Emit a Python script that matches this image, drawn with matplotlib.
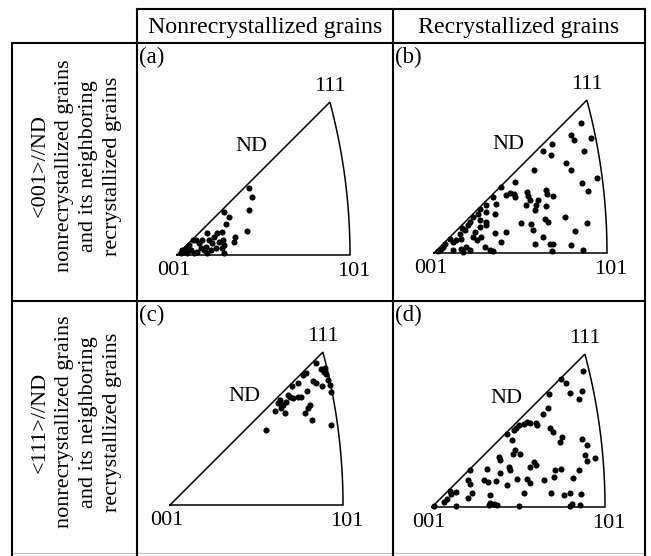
import matplotlib
matplotlib.use("Agg")
import matplotlib.pyplot as plt
import numpy as np
from matplotlib.lines import Line2D

plt.rcParams["font.family"] = ["Liberation Serif", "DejaVu Serif"]

W, H = 651, 556

COL_TITLES = ["Nonrecrystallized grains", "Recrystallized grains"]
ROW_TITLES = [
    "<001>//ND\nnonrecrystallized grains\nand its neighboring\nrecrystallized grains",
    "<111>//ND\nnonrecrystallized grains\nand its neighboring\nrecrystallized grains",
]
PANEL_TAGS = ["(a)", "(b)", "(c)", "(d)"]
POLE_LABELS = ["001", "101", "111", "ND"]

# grain orientations in the standard triangle (stereographic),
# in units of the 001-101 edge length
GRAINS_A = [
    (0.416, 0.385), (0.432, 0.337), (0.416, 0.260), (0.407, 0.141), (0.272, 0.250),
    (0.301, 0.222), (0.285, 0.177), (0.258, 0.135), (0.335, 0.106), (0.329, 0.077),
    (0.268, 0.087), (0.272, 0.058), (0.233, 0.125), (0.214, 0.106), (0.175, 0.125),
    (0.185, 0.087), (0.204, 0.067), (0.224, 0.039), (0.166, 0.048), (0.156, 0.029),
    (0.127, 0.067), (0.108, 0.087), (0.094, 0.085), (0.137, 0.039), (0.118, 0.019),
    (0.079, 0.029), (0.060, 0.010), (0.050, 0.039), (0.040, 0.019), (0.098, 0.010),
    (0.175, 0.010), (0.272, 0.010), (0.262, 0.039), (0.146, 0.087), (0.195, 0.029),
    (0.243, 0.077), (0.021, 0.010), (0.069, 0.058), (0.031, 0.029),
]
GRAINS_B = [
    (0.852, 0.751), (0.794, 0.684), (0.809, 0.651), (0.909, 0.667), (0.867, 0.590),
    (0.682, 0.632), (0.630, 0.588), (0.674, 0.568), (0.761, 0.520), (0.794, 0.478),
    (0.578, 0.478), (0.942, 0.434), (0.855, 0.407), (0.890, 0.358), (0.470, 0.410),
    (0.389, 0.382), (0.418, 0.333), (0.437, 0.347), (0.461, 0.339), (0.470, 0.324),
    (0.539, 0.353), (0.543, 0.328), (0.553, 0.308), (0.649, 0.362), (0.655, 0.339),
    (0.688, 0.329), (0.601, 0.304), (0.592, 0.276), (0.534, 0.276), (0.586, 0.247),
    (0.645, 0.272), (0.341, 0.324), (0.356, 0.281), (0.302, 0.279), (0.264, 0.255),
    (0.254, 0.227), (0.302, 0.237), (0.351, 0.227), (0.302, 0.179), (0.299, 0.160),
    (0.264, 0.150), (0.235, 0.121), (0.225, 0.092), (0.249, 0.073), (0.197, 0.160),
    (0.177, 0.131), (0.148, 0.112), (0.206, 0.179), (0.158, 0.083), (0.129, 0.073),
    (0.110, 0.064), (0.062, 0.054), (0.052, 0.035), (0.110, 0.015), (0.158, 0.025),
    (0.206, 0.015), (0.293, 0.035), (0.322, 0.015), (0.341, 0.010), (0.389, 0.064),
    (0.351, 0.116), (0.418, 0.121), (0.501, 0.173), (0.563, 0.170), (0.572, 0.135),
    (0.640, 0.198), (0.659, 0.179), (0.630, 0.092), (0.586, 0.050), (0.669, 0.054),
    (0.688, 0.050), (0.682, 0.010), (0.759, 0.208), (0.886, 0.173), (0.813, 0.127),
    (0.794, 0.044), (0.861, 0.015), (0.042, 0.025), (0.023, 0.012), (0.187, 0.035),
    (0.168, 0.006), (0.274, 0.092), (0.091, 0.080), (0.160, 0.145), (0.225, 0.210),
    (0.264, 0.189),
]
GRAINS_C = [
    (0.842, 0.823), (0.875, 0.784), (0.894, 0.790), (0.888, 0.771), (0.904, 0.757),
    (0.913, 0.723), (0.923, 0.694), (0.933, 0.655), (0.881, 0.688), (0.827, 0.719),
    (0.846, 0.707), (0.784, 0.765), (0.769, 0.750), (0.740, 0.703), (0.705, 0.690),
    (0.792, 0.661), (0.755, 0.626), (0.807, 0.578), (0.798, 0.559), (0.778, 0.530),
    (0.823, 0.491), (0.933, 0.462), (0.740, 0.626), (0.711, 0.617), (0.682, 0.636),
    (0.692, 0.626), (0.634, 0.607), (0.624, 0.588), (0.653, 0.578), (0.605, 0.543),
    (0.663, 0.530), (0.644, 0.559), (0.557, 0.434), (0.669, 0.597),
]
GRAINS_D = [
    (0.871, 0.784), (0.748, 0.742), (0.775, 0.717), (0.867, 0.671), (0.800, 0.659),
    (0.848, 0.626), (0.674, 0.655), (0.669, 0.574), (0.641, 0.540), (0.549, 0.491),
    (0.568, 0.486), (0.530, 0.482), (0.501, 0.472), (0.487, 0.459), (0.476, 0.443),
    (0.601, 0.486), (0.607, 0.472), (0.684, 0.459), (0.697, 0.434), (0.751, 0.405),
    (0.742, 0.376), (0.867, 0.395), (0.896, 0.356), (0.886, 0.299), (0.944, 0.283),
    (0.896, 0.264), (0.434, 0.424), (0.462, 0.389), (0.482, 0.328), (0.511, 0.308),
    (0.385, 0.289), (0.391, 0.270), (0.468, 0.308), (0.592, 0.260), (0.601, 0.241),
    (0.568, 0.231), (0.443, 0.231), (0.453, 0.212), (0.391, 0.198), (0.318, 0.218),
    (0.222, 0.212), (0.208, 0.154), (0.222, 0.135), (0.303, 0.154), (0.322, 0.145),
    (0.372, 0.150), (0.434, 0.125), (0.491, 0.164), (0.549, 0.160), (0.564, 0.139),
    (0.530, 0.081), (0.649, 0.158), (0.703, 0.173), (0.709, 0.212), (0.746, 0.218),
    (0.815, 0.168), (0.848, 0.212), (0.800, 0.083), (0.761, 0.067), (0.863, 0.073),
    (0.688, 0.083), (0.857, 0.010), (0.809, 0.019), (0.800, 0.004), (0.337, 0.067),
    (0.337, 0.025), (0.356, 0.019), (0.376, 0.010), (0.328, 0.010), (0.501, 0.004),
    (0.231, 0.081), (0.206, 0.054), (0.141, 0.087), (0.112, 0.073), (0.087, 0.048),
    (0.102, 0.095), (0.067, 0.029), (0.141, 0.004), (0.010, 0.004),
]
PANEL_GRAINS = [GRAINS_A, GRAINS_B, GRAINS_C, GRAINS_D]

# table geometry in pixels (y down)
COL_X = [137, 393, 645]
ROW_Y = [43, 301, 555]
LABEL_X0 = 12
HEAD_Y0 = 9
# 001 corner of each triangle, pixels; 173 px per unit edge
CORNERS = [(177, 255), (434, 253), (170, 505), (432, 507)]
SCALE = 173.0


def fx(x):
    return x / W


def fy(y):
    return 1 - y / H


def hline(fig, x0, x1, y, **kw):
    fig.add_artist(Line2D([fx(x0), fx(x1)], [fy(y), fy(y)], transform=fig.transFigure, **kw))


def vline(fig, x, y0, y1, **kw):
    fig.add_artist(Line2D([fx(x), fx(x)], [fy(y0), fy(y1)], transform=fig.transFigure, **kw))


def draw_table(fig):
    style = dict(color="black", lw=1.5)
    hline(fig, COL_X[0], COL_X[2], HEAD_Y0, **style)
    hline(fig, LABEL_X0, COL_X[2], ROW_Y[0], **style)
    hline(fig, LABEL_X0, COL_X[2], ROW_Y[1], **style)
    hline(fig, LABEL_X0, COL_X[2], ROW_Y[2] - 2, color="0.75", lw=0.8)
    for x in COL_X:
        vline(fig, x, HEAD_Y0, ROW_Y[2], **style)
    vline(fig, LABEL_X0, ROW_Y[0], ROW_Y[2], **style)

    for i, title in enumerate(COL_TITLES):
        fig.text(fx((COL_X[i] + COL_X[i + 1]) / 2), fy((HEAD_Y0 + ROW_Y[0]) / 2 + 1), title,
                 ha="center", va="center", fontsize=17.2)
    for j, title in enumerate(ROW_TITLES):
        fig.text(fx((LABEL_X0 + COL_X[0]) / 2 + 2), fy((ROW_Y[j] + ROW_Y[j + 1]) / 2 - 6), title,
                 ha="center", va="center", rotation=90, fontsize=16,
                 linespacing=1.38, multialignment="center")


def draw_triangle(ax, grains):
    t = np.radians(np.linspace(0, 15, 60))
    r = 2 + np.sqrt(2)
    c = -(1 + np.sqrt(2))
    arc_x = c + r * np.cos(t)
    arc_y = r * np.sin(t)
    bx = np.concatenate([[0.0], arc_x, [0.0]])
    by = np.concatenate([[0.0], arc_y, [0.0]])
    ax.plot(bx, by, color="black", lw=1.1, solid_joinstyle="miter")

    u = [g[0] for g in grains]
    v = [g[1] for g in grains]
    ax.plot(u, v, "o", color="black", markersize=4.4, markeredgewidth=0)

    p111 = arc_x[-1]
    ax.text(-0.02, -0.09, POLE_LABELS[0], ha="center", va="center", fontsize=16)
    ax.text(1.02, -0.095, POLE_LABELS[1], ha="center", va="center", fontsize=16)
    ax.text(p111, 0.975, POLE_LABELS[2], ha="center", va="center", fontsize=16)
    ax.text(0.43, 0.625, POLE_LABELS[3], ha="center", va="center", fontsize=16)


def main():
    fig = plt.figure(figsize=(W / 100, H / 100), dpi=100)
    draw_table(fig)

    for k in range(4):
        row, col = divmod(k, 2)
        x0, x1 = COL_X[col], COL_X[col + 1]
        y0, y1 = ROW_Y[row], ROW_Y[row + 1]
        cx, cy = CORNERS[k]
        ax = fig.add_axes([fx(x0), fy(y1), (x1 - x0) / W, (y1 - y0) / H])
        ax.set_xlim((x0 - cx) / SCALE, (x1 - cx) / SCALE)
        ax.set_ylim((cy - y1) / SCALE, (cy - y0) / SCALE)
        ax.axis("off")
        draw_triangle(ax, PANEL_GRAINS[k])
        fig.text(fx(x0 + 2), fy(y0 + 4), PANEL_TAGS[k], ha="left", va="top", fontsize=16.5)

    fig.savefig("out.png", dpi=100)
    plt.close(fig)


if __name__ == "__main__":
    main()
